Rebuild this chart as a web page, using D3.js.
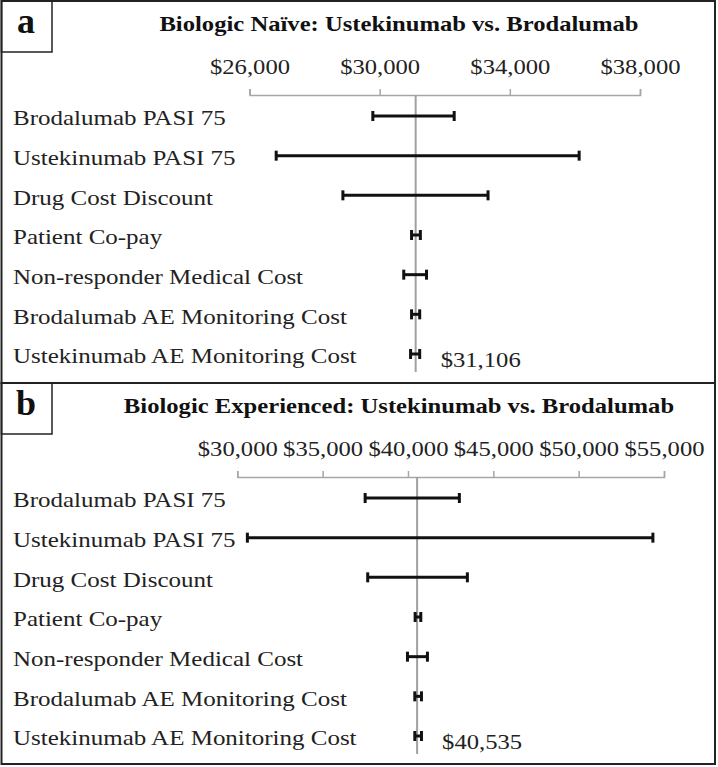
<!DOCTYPE html>
<html>
<head>
<meta charset="utf-8">
<script src="https://cdn.jsdelivr.net/npm/d3@7"></script>
<style>
  body { margin: 0; background: #fff; }
  svg { display: block; font-family: "Liberation Serif", "Times New Roman", serif; }
</style>
</head>
<body>
<svg id="chart" width="718" height="767"></svg>
<script>
// one-way sensitivity (tornado) data
const parameters = [
  "Brodalumab PASI 75",
  "Ustekinumab PASI 75",
  "Drug Cost Discount",
  "Patient Co-pay",
  "Non-responder Medical Cost",
  "Brodalumab AE Monitoring Cost",
  "Ustekinumab AE Monitoring Cost"
];

const naiveLow  = [29790, 26820, 28870, 30980, 30740, 30980, 30950];
const naiveHigh = [32290, 36130, 33330, 31250, 31440, 31230, 31230];
const naiveBase = 31106;
const naiveTicks = [26000, 30000, 34000, 38000];

const expLow  = [37490, 30590, 37640, 40420, 39970, 40400, 40400];
const expHigh = [43010, 54350, 43480, 40750, 41140, 40790, 40790];
const expBase = 40535;
const expTicks = [30000, 35000, 40000, 45000, 50000, 55000];

const SX = 1.12;      // source text is a bit stretched horizontally
const SX_LABEL = 1.19;
const money = d3.format("$,");

const panels = [
  {letter: "a", title: "Biologic Naïve: Ustekinumab vs. Brodalumab",
   low: naiveLow, high: naiveHigh, base: naiveBase, ticks: naiveTicks,
   top: 1, height: 382, xRange: [249.5, 640]},
  {letter: "b", title: "Biologic Experienced: Ustekinumab vs. Brodalumab",
   low: expLow, high: expHigh, base: expBase, ticks: expTicks,
   top: 383, height: 381, xRange: [237.3, 664]}
];

const svg = d3.select("#chart");

function stretchedText(g, x, y, str, sx) {
  return g.append("g")
    .attr("transform", "translate(" + x + "," + y + ") scale(" + (sx || SX) + ",1)")
    .append("text")
    .text(str);
}

panels.forEach(function(p) {
  const g = svg.append("g").attr("transform", "translate(0," + p.top + ")");

  // frame + letter box
  g.append("rect")
    .attr("x", 1.5).attr("y", 0)
    .attr("width", 713.5).attr("height", p.height)
    .attr("fill", "none").attr("stroke", "#222").attr("stroke-width", 2);
  g.append("rect")
    .attr("x", 1.5).attr("y", 0)
    .attr("width", 50.5).attr("height", 51)
    .attr("fill", "none").attr("stroke", "#222").attr("stroke-width", 1.5);
  g.append("text")
    .attr("x", 26).attr("y", 32)
    .attr("text-anchor", "middle")
    .attr("font-weight", "bold").attr("font-size", 36)
    .attr("fill", "#111")
    .text(p.letter);

  stretchedText(g, 399, 30, p.title)
    .attr("text-anchor", "middle")
    .attr("font-weight", "bold").attr("font-size", 22)
    .attr("fill", "#111");

  const x = d3.scaleLinear()
    .domain(d3.extent(p.ticks))
    .range(p.xRange);

  const y = d3.scalePoint()
    .domain(parameters)
    .range([115, 353]);

  const axisY = 94;

  // axis on top, ticks pointing up
  const axis = g.append("g")
    .attr("transform", "translate(0," + axisY + ")")
    .call(d3.axisTop(x).tickValues(p.ticks).tickSize(6).tickPadding(15).tickFormat(money));
  axis.select(".domain").attr("stroke", "#a6a6a6").attr("stroke-width", 1.5);
  axis.selectAll(".tick line").attr("stroke", "#a6a6a6").attr("stroke-width", 1.5);
  axis.selectAll(".tick text")
    .attr("font-family", "Liberation Serif, serif")
    .attr("font-size", 22)
    .attr("fill", "#222")
    .attr("transform", "scale(" + SX + ",1)");

  // base case line
  g.append("line")
    .attr("x1", x(p.base)).attr("x2", x(p.base))
    .attr("y1", axisY).attr("y2", 371)
    .attr("stroke", "#a0a0a0").attr("stroke-width", 2);

  // row labels
  parameters.forEach(function(name) {
    stretchedText(g, 13, y(name) + 2, name, SX_LABEL)
      .attr("dy", "0.35em")
      .attr("font-size", 21)
      .attr("fill", "#222");
  });

  const rows = parameters.map(function(name, i) {
    return {name: name, low: p.low[i], high: p.high[i]};
  });

  const bars = g.selectAll(".bar")
    .data(rows)
    .enter().append("g")
    .attr("class", "bar");

  bars.append("line")
    .attr("x1", function(d) { return x(d.low); })
    .attr("x2", function(d) { return x(d.high); })
    .attr("y1", function(d) { return y(d.name); })
    .attr("y2", function(d) { return y(d.name); })
    .attr("stroke", "#111").attr("stroke-width", 3);

  ["low", "high"].forEach(function(k) {
    bars.append("rect")
      .attr("x", function(d) { return x(d[k]) - 1.5; })
      .attr("y", function(d) { return y(d.name) - 5; })
      .attr("width", 3).attr("height", 10)
      .attr("fill", "#111");
  });

  // base case value
  stretchedText(g, x(p.base) + 25, 366, money(p.base))
    .attr("font-size", 22)
    .attr("fill", "#222");
});
</script>
</body>
</html>
